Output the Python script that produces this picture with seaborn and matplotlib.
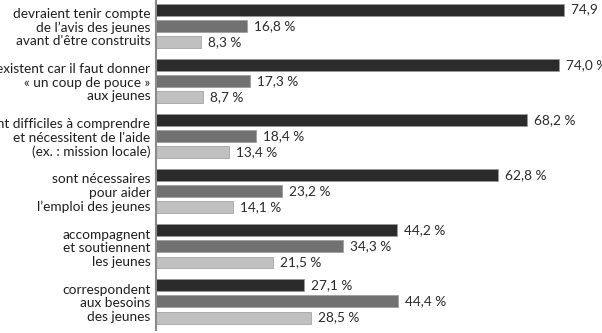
import matplotlib
matplotlib.use("Agg")
import matplotlib.pyplot as plt
import pandas as pd
import seaborn as sns

categories = [
    "devraient tenir compte\nde l\u2019avis des jeunes\navant d'\u00eatre construits",
    "existent car il faut donner\n\u00ab un coup de pouce \u00bb\naux jeunes",
    "sont difficiles \u00e0 comprendre\net n\u00e9cessitent de l'aide\n(ex. : mission locale)",
    "sont n\u00e9cessaires\npour aider\nl\u2019emploi des jeunes",
    "accompagnent\net soutiennent\nles jeunes",
    "correspondent\naux besoins\ndes jeunes",
]
series_names = ["s1", "s2", "s3"]
values_s1 = [74.9, 74.0, 68.2, 62.8, 44.2, 27.1]
values_s2 = [16.8, 17.3, 18.4, 23.2, 34.3, 44.4]
values_s3 = [8.3, 8.7, 13.4, 14.1, 21.5, 28.5]
colors = ["#2b2b2b", "#717171", "#c0c0c0"]

rows = []
for name, vals in zip(series_names, [values_s1, values_s2, values_s3]):
    for cat, v in zip(categories, vals):
        rows.append({"cat": cat, "serie": name, "val": v})
df = pd.DataFrame(rows)

sns.set_theme(style="white")
plt.rcParams["font.family"] = ["Lato", "DejaVu Sans"]

fig = plt.figure(figsize=(6.02, 3.33), dpi=100)
ax = fig.add_axes([156 / 602, 3 / 333, 1 - 156 / 602, 330 / 333])

sns.barplot(data=df, y="cat", x="val", hue="serie", order=categories,
            hue_order=series_names, palette=colors, orient="h",
            width=0.885, gap=0.27, ax=ax, legend=False, saturation=1,
            edgecolor="#9a9a9a", linewidth=0.5)

for cont in ax.containers:
    labs = [f"{v:.1f} %".replace(".", ",") for v in cont.datavalues]
    ax.bar_label(cont, labels=labs, padding=5, fontsize=9.8, color="#2a2a2a")

ax.set_xlim(0, 81.9)
ax.set_ylim(5.52, -0.47)
ax.set_xlabel("")
ax.set_ylabel("")
ax.set_xticks([])
ax.tick_params(axis="y", length=0, pad=4)
for lab in ax.get_yticklabels():
    lab.set_fontsize(9.8)
    lab.set_color("#1e1e1e")
    lab.set_linespacing(1.15)
    lab.set_horizontalalignment("right")
for s in ["top", "right", "bottom"]:
    ax.spines[s].set_visible(False)
ax.spines["left"].set_color("#8a8a8a")
ax.spines["left"].set_linewidth(1.5)

fig.savefig("out.png", dpi=100)
